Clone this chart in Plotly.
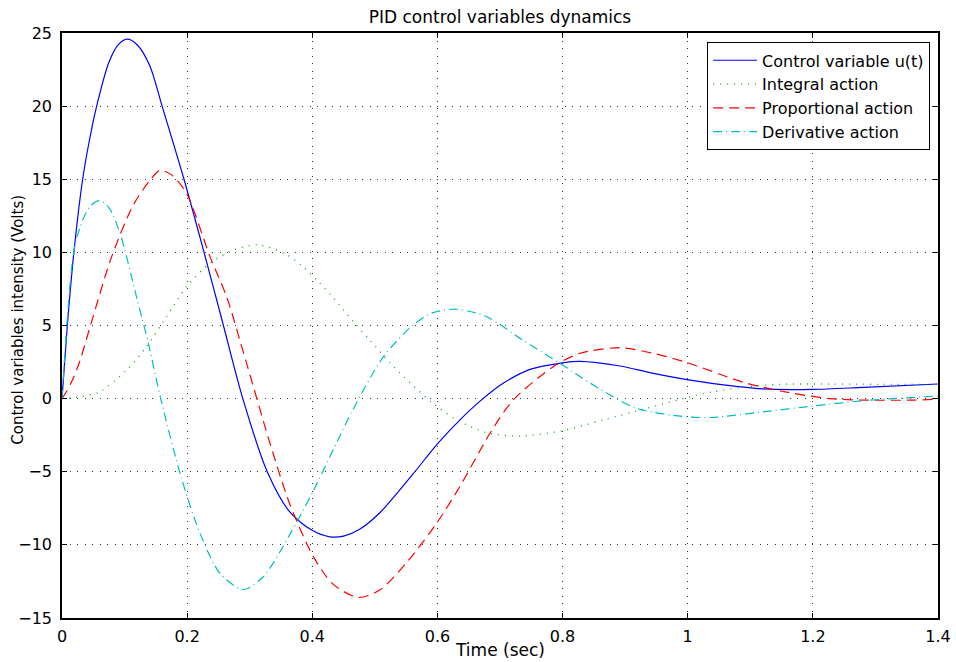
import plotly.graph_objects as go

# Control variable u(t)
t_u = [0, 0.0085, 0.019, 0.033, 0.044, 0.0554, 0.075, 0.09, 0.104, 0.12, 0.14, 0.16,
       0.195, 0.227, 0.258, 0.289, 0.328, 0.364, 0.399, 0.428, 0.45, 0.475, 0.508,
       0.561, 0.6, 0.636, 0.67, 0.705, 0.748, 0.800, 0.828, 0.892, 0.945, 1.020, 1.121,
       1.2, 1.281, 1.4]
u = [0, 5, 10, 15, 17.7, 20, 23.0, 24.2, 24.58, 24.2, 22.8, 20,
     15, 10, 5, 0, -5, -7.75, -8.99, -9.45, -9.4, -8.95, -7.8,
     -5.15, -3.1, -1.45, -0.1, 1.05, 2.0, 2.45, 2.55, 2.23, 1.73, 1.16, 0.66,
     0.63, 0.77, 1.0]

# Integral action
t_i = [0, 0.0288, 0.0607, 0.1034, 0.135, 0.167, 0.199, 0.2365, 0.274, 0.314, 0.359, 0.383,
       0.4097, 0.4336, 0.4656, 0.492, 0.524, 0.556, 0.593, 0.631, 0.679, 0.732, 0.800,
       0.865, 0.9345, 1.009, 1.041, 1.094, 1.147, 1.2, 1.307, 1.4]
i_act = [0, 0.13, 0.47, 1.96, 3.55, 5.60, 7.65, 9.25, 10.16, 10.51, 9.85, 9.1,
         8.0, 6.9, 5.26, 4.0, 2.46, 1.09, -0.32, -1.46, -2.33, -2.56, -2.19,
         -1.46, -0.66, 0.18, 0.47, 0.81, 0.98, 1.0, 0.98, 0.96]

# Proportional action
t_p = [0, 0.0075, 0.018, 0.0288, 0.0448, 0.0794, 0.114, 0.141, 0.1566, 0.175, 0.199, 0.2365,
       0.263, 0.295, 0.332, 0.364, 0.4017, 0.4336, 0.4736, 0.508, 0.551, 0.599, 0.636,
       0.684, 0.721, 0.785, 0.828, 0.892, 0.945, 0.998, 1.094, 1.169, 1.227, 1.281, 1.361, 1.4]
p_act = [0, 0.5, 1.4, 2.6, 4.9, 9.71, 13.24, 14.95, 15.61, 15.3, 14.04, 9.71,
         6.97, 2.41, -3.0, -7.2, -10.8, -12.7, -13.59, -13.09, -11.2, -8.5, -6.0,
         -2.37, -0.10, 2.18, 3.10, 3.48, 3.10, 2.48, 1.05, 0.36, 0.0, -0.1, -0.1, -0.03]

# Derivative action
t_d = [0, 0.0075, 0.015, 0.021, 0.028, 0.036, 0.046, 0.0597, 0.075, 0.0927, 0.119, 0.138,
       0.157, 0.191, 0.2205, 0.2525, 0.2898, 0.3217, 0.364, 0.4017, 0.439, 0.4656, 0.5135,
       0.561, 0.593, 0.631, 0.679, 0.732, 0.800, 0.849, 0.918, 0.998, 1.041, 1.121, 1.2,
       1.281, 1.4]
d_act = [0, 4.9, 8.8, 10.6, 11.6, 12.5, 13.2, 13.54, 13.06, 11.31, 6.97, 3.78,
         0.13, -5.45, -9.2, -11.95, -13.05, -12.18, -9.3, -6.3, -3.0, -0.7, 2.85,
         5.03, 5.88, 6.11, 5.60, 4.12, 2.30, 0.93, -0.66, -1.24, -1.28, -0.90, -0.51,
         -0.14, 0.18]

x_ticks = [0, 0.2, 0.4, 0.6, 0.8, 1.0, 1.2, 1.4]
x_labels = ["0", "0.2", "0.4", "0.6", "0.8", "1", "1.2", "1.4"]
y_ticks = [-15, -10, -5, 0, 5, 10, 15, 20, 25]
y_labels = ["\u221215", "\u221210", "\u22125", "0", "5", "10", "15", "20", "25"]

FONT = "DejaVu Sans, Verdana, sans-serif"

fig = go.Figure()
fig.add_trace(go.Scatter(x=t_u, y=u, mode="lines", name="Control variable u(t)",
                         line=dict(color="#0000FF", width=1.2, shape="spline", smoothing=0.8)))
fig.add_trace(go.Scatter(x=t_i, y=i_act, mode="lines", name="Integral action",
                         line=dict(color="#00B000", width=1.3, dash="1px,6px", shape="spline", smoothing=0.8)))
fig.add_trace(go.Scatter(x=t_p, y=p_act, mode="lines", name="Proportional action",
                         line=dict(color="#FF0000", width=1.2, dash="10px,6px", shape="spline", smoothing=0.8)))
fig.add_trace(go.Scatter(x=t_d, y=d_act, mode="lines", name="Derivative action",
                         line=dict(color="#00C0C0", width=1.2, dash="9px,4px,1px,4px", shape="spline", smoothing=0.8)))

axis_common = dict(
    showline=True, linecolor="black", linewidth=1.5, mirror="ticks",
    ticks="inside", ticklen=5, tickcolor="black", tickwidth=1,
    showgrid=True, gridcolor="#333333", gridwidth=1, griddash="1px,6.5px",
    zeroline=False, automargin=False,
    tickfont=dict(family=FONT, size=16, color="black"),
)

fig.update_layout(
    template="none",
    width=956, height=662,
    paper_bgcolor="white", plot_bgcolor="white",
    margin=dict(l=62, r=18, t=33, b=44, pad=0),
    title=dict(text="PID control variables dynamics", x=0.523, xanchor="center",
               y=0.974, yanchor="middle", xref="container", yref="container",
               font=dict(family=FONT, size=17, color="black")),
    xaxis=dict(range=[0, 1.4], tickvals=x_ticks, ticktext=x_labels,
               ticklabelstandoff=3, **axis_common),
    yaxis=dict(range=[-15, 25], tickvals=y_ticks, ticktext=y_labels,
               ticklabelstandoff=5, **axis_common),
    legend=dict(x=0.991, y=0.984, xanchor="right", yanchor="top",
                bgcolor="white", bordercolor="black", borderwidth=1,
                font=dict(family=FONT, size=16, color="black"),
                tracegroupgap=0, itemwidth=44),
    showlegend=True,
    annotations=[
        dict(text="Time (sec)", xref="paper", yref="paper", x=0.5, y=-0.0547,
             xanchor="center", yanchor="middle", showarrow=False,
             font=dict(family=FONT, size=17, color="black")),
        dict(text="Control variables intensity (Volts)", xref="paper", yref="paper",
             x=-0.0502, y=0.51, xanchor="center", yanchor="middle", textangle=-90,
             showarrow=False, font=dict(family=FONT, size=15, color="black")),
    ],
)

fig.write_html("out.html")
